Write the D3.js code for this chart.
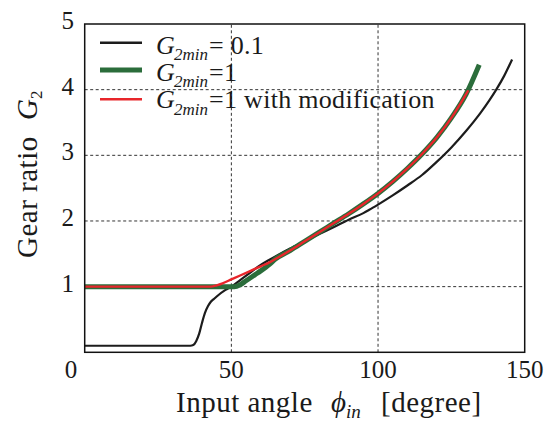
<!DOCTYPE html>
<html><head><meta charset="utf-8">
<script src="https://cdn.jsdelivr.net/npm/d3@7"></script>
<style>
body{margin:0;background:#fff;}
svg{display:block;}
</style></head>
<body>
<svg id="c" width="552" height="421"></svg>
<script>
// ---- data ----
const blackX = [0, 36, 37, 38, 39, 40, 41, 42, 43, 44, 45, 48, 50, 53, 56, 60, 63, 65, 70, 75, 80, 85, 90, 95, 97, 100, 105, 110, 115, 120, 125, 130, 135, 138, 140.3, 143, 145.7];
const blackY = [0.1, 0.1, 0.11, 0.17, 0.28, 0.45, 0.6, 0.7, 0.77, 0.81, 0.85, 0.95, 1.0, 1.1, 1.2, 1.33, 1.41, 1.46, 1.58, 1.69, 1.80, 1.91, 2.02, 2.12, 2.17, 2.25, 2.39, 2.54, 2.70, 2.90, 3.12, 3.37, 3.65, 3.84, 4.0, 4.21, 4.46];
const greenX = [0, 51, 53, 55, 58, 60, 63, 65, 70, 75, 80, 85, 90, 95, 100, 105, 110, 115, 120, 125, 130, 134.5];
const greenY = [1, 1, 1.03, 1.09, 1.18, 1.24, 1.34, 1.42, 1.55, 1.69, 1.83, 1.97, 2.11, 2.26, 2.42, 2.60, 2.80, 3.02, 3.27, 3.57, 3.93, 4.38];
const redX = [0, 43, 45, 47, 50, 53, 56, 60, 63, 65, 70, 75, 80, 85, 90, 95, 100, 105, 110, 115, 120, 125, 130, 130.8];
const redY = [1, 1, 1.02, 1.05, 1.11, 1.17, 1.23, 1.31, 1.37, 1.42, 1.55, 1.69, 1.83, 1.97, 2.11, 2.26, 2.42, 2.60, 2.80, 3.02, 3.27, 3.57, 3.93, 3.99];
const xTicks = [0, 50, 100, 150];
const yTicks = [1, 2, 3, 4, 5];
const xGrid = [50, 100];
const yGrid = [1, 2, 3, 4];
const legendValues = ["= 0.1", "=1", "=1 with modification"];

const FONT = "'Liberation Serif', 'Times New Roman', serif";
const svg = d3.select("#c").attr("font-family", FONT);
const x = d3.scaleLinear().domain([0, 150]).range([84.7, 524.7]);
const y = d3.scaleLinear().domain([0, 5]).range([352.3, 24]);

// grid
const g = svg.append("g");
g.selectAll("line.gx").data(xGrid).join("line")
  .attr("x1", d => x(d)).attr("x2", d => x(d)).attr("y1", y(0)).attr("y2", y(5))
  .attr("stroke", "#333").attr("stroke-width", 1).attr("stroke-dasharray", "3,2.5");
g.selectAll("line.gy").data(yGrid).join("line")
  .attr("y1", d => y(d)).attr("y2", d => y(d)).attr("x1", x(0)).attr("x2", x(150))
  .attr("stroke", "#333").attr("stroke-width", 1).attr("stroke-dasharray", "3,2.5");

// series
const line = d3.line().x(d => x(d[0])).y(d => y(d[1])).curve(d3.curveMonotoneX);
const series = [
  {xs: blackX, ys: blackY, color: "#1c1c1c", w: 2.2},
  {xs: greenX, ys: greenY, color: "#2b6d3b", w: 5},
  {xs: redX, ys: redY, color: "#e8262b", w: 2.4}
];
series.forEach(s => {
  svg.append("path").datum(s.xs.map((v, i) => [v, s.ys[i]]))
    .attr("d", line).attr("fill", "none").attr("stroke", s.color)
    .attr("stroke-width", s.w).attr("stroke-linejoin", "round");
});

// frame
svg.append("rect").attr("x", x(0)).attr("y", y(5)).attr("width", x(150) - x(0)).attr("height", y(0) - y(5))
  .attr("fill", "none").attr("stroke", "#111").attr("stroke-width", 1.5);

function txt(sel) { return sel.attr("font-family", FONT).attr("fill", "#1a1a1a"); }

// x tick labels
txt(svg.selectAll("text.xt").data(xTicks).join("text"))
  .attr("x", d => d === 0 ? 71 : x(d)).attr("y", 378)
  .attr("text-anchor", "middle").attr("font-size", 25).text(d => d);
// y tick labels
txt(svg.selectAll("text.yt").data(yTicks).join("text"))
  .attr("x", 74).attr("y", d => y(d) + 5)
  .attr("text-anchor", "end").attr("font-size", 25).text(d => d);

// x label
const xl = txt(svg.append("text")).attr("x", 176).attr("y", 412).attr("font-size", 29);
xl.append("tspan").attr("letter-spacing", 0.5).text("Input angle");
xl.append("tspan").attr("x", 331).attr("font-style", "italic").text("\u03d5");
xl.append("tspan").attr("dy", 6).attr("font-size", 19).attr("font-style", "italic").text("in");
xl.append("tspan").attr("x", 381).attr("dy", -6).attr("letter-spacing", 0.5).text("[degree]");

// y label
const yl = txt(svg.append("text")).attr("transform", "translate(37,258) rotate(-90)").attr("font-size", 29);
yl.append("tspan").attr("x", 0).attr("letter-spacing", 0.5).text("Gear ratio");
yl.append("tspan").attr("x", 138).attr("font-style", "italic").text("G");
yl.append("tspan").attr("dy", 5).attr("font-size", 17).text("2");

// legend
const legColors = ["#1c1c1c", "#2b6d3b", "#e8262b"];
const legW = [2.4, 5, 2.4];
const legLineY = [42.7, 70, 99.3];
const legBase = [53.5, 80.5, 108];
legendValues.forEach((v, i) => {
  svg.append("line").attr("x1", 100).attr("x2", 142).attr("y1", legLineY[i]).attr("y2", legLineY[i])
    .attr("stroke", legColors[i]).attr("stroke-width", legW[i]);
  const t = txt(svg.append("text")).attr("x", 156).attr("y", legBase[i]).attr("font-size", 26);
  t.append("tspan").attr("font-style", "italic").text("G");
  t.append("tspan").attr("x", 174).attr("dy", 6.5).attr("font-size", 17).attr("font-style", "italic").text("2min");
  t.append("tspan").attr("x", 209).attr("dy", -6.5).attr("letter-spacing", 0.3).text(v);
});
</script>
</body></html>
